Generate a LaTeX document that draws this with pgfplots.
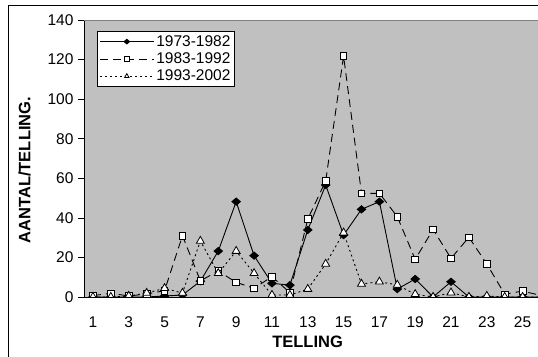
\documentclass[border=0pt]{standalone}
\usepackage{pgfplots}
\pgfplotsset{compat=1.18}
\usepackage{fontspec}
\setmainfont{Liberation Sans}
\definecolor{plotgray}{HTML}{C0C0C0}
\definecolor{edgegray}{HTML}{808080}
\begin{document}
\begin{tikzpicture}[x=1pt,y=1pt]
\fill[white] (0,0) rectangle (538,356);
\draw[black,line width=1pt] (8,-5) -- (8,350) -- (545,350);
\begin{axis}[
  at={(84pt,59pt)}, anchor=south west,
  scale only axis, width=454pt, height=277pt,
  xmin=0.5, xmax=25.86, ymin=0, ymax=140,
  axis background/.style={fill=plotgray},
  axis line style={line width=0.8pt},
  axis x line=bottom, axis y line=left,
  axis line style={-},
  clip marker paths=true,
  xtick={1,3,...,25},
  minor xtick={0.5,1.5,...,25.5},
  ytick={0,20,...,140},
  tick align=outside,
  major tick length=6pt, minor tick length=5pt,
  xtick style={draw=none},
  minor tick style={black,line width=0.7pt},
  ytick style={black,line width=0.7pt},
  /pgf/number format/assume math mode=true,
  tick label style={font=\fontsize{15.5}{18}\selectfont},
  xticklabel style={yshift=-10.5pt},
  yticklabel style={xshift=-1pt},
  xlabel={\textbf{TELLING}},
  ylabel={\textbf{AANTAL/TELLING.}},
  label style={font=\fontsize{16.5}{19}\selectfont},
  xlabel style={at={(axis description cs:0.4925,-0.1625)},anchor=center},
  ylabel style={at={(axis description cs:-0.131,0.458)},anchor=center,rotate=0},
  legend style={at={(axis description cs:0.0286,0.960)},anchor=north west,
    draw=black, line width=0.8pt, fill=white,
    font=\fontsize{15.5}{18}\selectfont, row sep=1pt,
    inner xsep=2pt, inner ysep=2pt},
  legend cell align=left,
  legend image code/.code={\draw[#1,mark=none] (0pt,0pt) -- (54pt,0pt);
    \draw[#1,solid,mark size=2.6pt] plot coordinates {(27pt,0pt)};},
]
\addplot[black, line width=0.9pt, mark=diamond*, mark size=4pt, mark options={solid,fill=black,xscale=1.4,yscale=0.9}]
coordinates {(1,0)(2,0)(3,0)(4,0)(5,0.5)(6,1)(7,8)(8,23.2)(9,48.2)(10,20.9)(11,6.9)(12,6)(13,33.9)(14,56.6)(15,31.3)(16,44.3)(17,48.2)(18,4)(19,9.1)(20,0)(21,7.7)(22,0)(23,0)(24,0)(25,0)(26,0)};
\addlegendentry{1973-1982}
\addplot[black, line width=0.9pt, dash pattern=on 8pt off 5pt, mark=square*, mark size=3.3pt, mark options={solid,fill=white,line width=0.8pt}]
coordinates {(1,0.7)(2,1.9)(3,0.5)(4,1.5)(5,3.2)(6,31)(7,8.2)(8,13.1)(9,7.4)(10,4.4)(11,10.3)(12,2.2)(13,39.4)(14,58.6)(15,121.8)(16,52.4)(17,52.4)(18,40.6)(19,19)(20,34.2)(21,19.5)(22,30.2)(23,16.7)(24,1.4)(25,3)(26,0.8)};
\addlegendentry{1983-1992}
\addplot[black, line width=0.9pt, dash pattern=on 2pt off 3pt, mark=triangle*, mark size=4.6pt, mark options={solid,fill=white,line width=0.8pt}]
coordinates {(1,0)(2,0)(3,0.5)(4,2)(5,4.4)(6,2)(7,28.3)(8,12)(9,23.2)(10,12)(11,1)(12,1)(13,4)(14,16.7)(15,32.5)(16,6.6)(17,7.7)(18,6.1)(19,1.4)(20,0)(21,2.2)(22,0)(23,0.5)(24,0)(25,0)(26,0)};
\addlegendentry{1993-2002}
\draw[edgegray,line width=0.8pt] (rel axis cs:0,1) -- (rel axis cs:1.1,1);
\end{axis}
\pgfresetboundingbox
\useasboundingbox (0,0) rectangle (538,356);
\end{tikzpicture}
\end{document}
